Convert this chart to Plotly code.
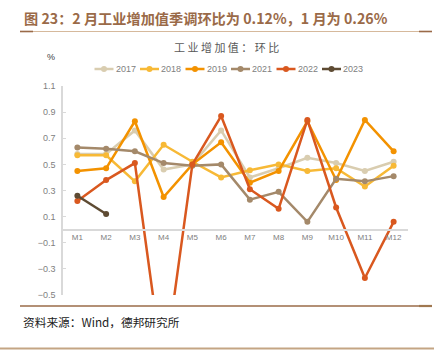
import plotly.graph_objects as go

months = ["M1", "M2", "M3", "M4", "M5", "M6", "M7", "M8", "M9", "M10", "M11", "M12"]
v2017 = [0.58, 0.58, 0.76, 0.46, 0.50, 0.76, 0.40, 0.47, 0.55, 0.51, 0.45, 0.52]
v2018 = [0.57, 0.57, 0.37, 0.65, 0.52, 0.40, 0.455, 0.50, 0.45, 0.47, 0.33, 0.49]
v2019 = [0.45, 0.47, 0.83, 0.25, 0.50, 0.67, 0.36, 0.45, 0.83, 0.38, 0.84, 0.60]
v2021 = [0.63, 0.62, 0.60, 0.51, 0.49, 0.50, 0.23, 0.29, 0.06, 0.39, 0.37, 0.41]
v2022 = [0.22, 0.38, 0.51, -1.10, 0.50, 0.87, 0.31, 0.16, 0.84, 0.17, -0.37, 0.06]
v2023 = [0.26, 0.12]

series = [
    ("2017", v2017, "#d9cdb0"),
    ("2018", v2018, "#f7b936"),
    ("2019", v2019, "#f39200"),
    ("2021", v2021, "#a4896a"),
    ("2022", v2022, "#d9581f"),
    ("2023", v2023, "#5e4b33"),
]

# plot area in pixels
L, R, T, B = 63, 408, 86, 295
PW, PH = R - L, B - T

def px(xp):
    return (xp - L) / PW

def py(yp):
    return (B - yp) / PH

fig = go.Figure()
for name, vals, col in series:
    fig.add_trace(go.Scatter(
        x=months[:len(vals)], y=vals, name=name, mode="lines+markers",
        line=dict(color=col, width=2.5),
        marker=dict(color=col, size=6),
        cliponaxis=True, showlegend=False,
    ))

gray = "#808080"
fig.update_layout(
    width=440, height=350,
    margin=dict(l=L, r=440 - R, t=T, b=350 - B, autoexpand=False),
    paper_bgcolor="white", plot_bgcolor="white",
    font=dict(family="Liberation Sans, Arial, sans-serif", color=gray, size=9),
    showlegend=False,
    xaxis=dict(
        type="category", range=[-0.5, 11.5], anchor="free", position=0.3125,
        showline=True, linecolor="#d9d9d9", linewidth=2,
        showgrid=False, zeroline=False, ticks="",
        tickfont=dict(size=8, color=gray), automargin=False,
    ),
    yaxis=dict(
        range=[-0.5, 1.1], tick0=-0.5, dtick=0.2, tickformat=".1f",
        showline=True, linecolor="#d9d9d9", linewidth=1.5,
        showgrid=False, zeroline=False, ticks="inside", ticklen=3,
        tickcolor="#d9d9d9", tickfont=dict(size=9, color=gray), automargin=False,
        ticklabelstandoff=4,
    ),
)

# Legend (drawn manually to match compact reference styling)
leg_y = 69
for i, (name, vals, col) in enumerate(series):
    cx = 104 + 45.5 * i
    fig.add_shape(type="line", xref="paper", yref="paper",
                  x0=px(cx - 9.5), x1=px(cx + 9.5), y0=py(leg_y), y1=py(leg_y),
                  line=dict(color=col, width=2.5))
    fig.add_shape(type="circle", xref="paper", yref="paper",
                  x0=px(cx - 3), x1=px(cx + 3), y0=py(leg_y + 3), y1=py(leg_y - 3),
                  fillcolor=col, line=dict(width=0))
    fig.add_annotation(text=name, xref="paper", yref="paper",
                       x=px(cx + 9.5), y=py(leg_y), xanchor="left", yanchor="middle",
                       showarrow=False, font=dict(size=9, color=gray))

# Header title
fig.add_annotation(
    text="图 23：2 月工业增加值季调环比为 0.12%，1 月为 0.26%",
    xref="paper", yref="paper", x=px(22), y=py(18),
    xanchor="left", yanchor="middle", showarrow=False,
    font=dict(family="Noto Sans CJK SC", size=14.2, color="#9a6a48", weight="bold"),
)
# Chart title
fig.add_annotation(
    text="工 业 增 加 值 ： 环 比",
    xref="paper", yref="paper", x=px(226), y=py(47),
    xanchor="center", yanchor="middle", showarrow=False,
    font=dict(family="Noto Sans CJK SC", size=11, color="#595959"),
)
# Unit
fig.add_annotation(
    text="%", xref="paper", yref="paper", x=px(51), y=py(57),
    xanchor="center", yanchor="middle", showarrow=False,
    font=dict(size=9, color="#404040"),
)
# Source
fig.add_annotation(
    text="资料来源：Wind，德邦研究所",
    xref="paper", yref="paper", x=px(21), y=py(321),
    xanchor="left", yanchor="middle", showarrow=False,
    font=dict(family="Noto Sans CJK SC", size=11.7, color="#222222"),
)

def hline(x0, x1, y, color, w):
    fig.add_shape(type="line", xref="paper", yref="paper",
                  x0=px(x0), x1=px(x1), y0=py(y), y1=py(y),
                  line=dict(color=color, width=w), layer="above")

hline(20, 432, 31.5, "#d6b99c", 1.2)
hline(20, 33, 31.5, "#9a6a48", 1.6)
hline(419, 432, 31.5, "#9a6a48", 1.6)
hline(20, 432, 306, "#9a6b48", 1.6)
hline(419, 432, 306, "#a07850", 2.2)
hline(0, 434, 348.5, "#c4a584", 2)

fig.write_html("out.html")
